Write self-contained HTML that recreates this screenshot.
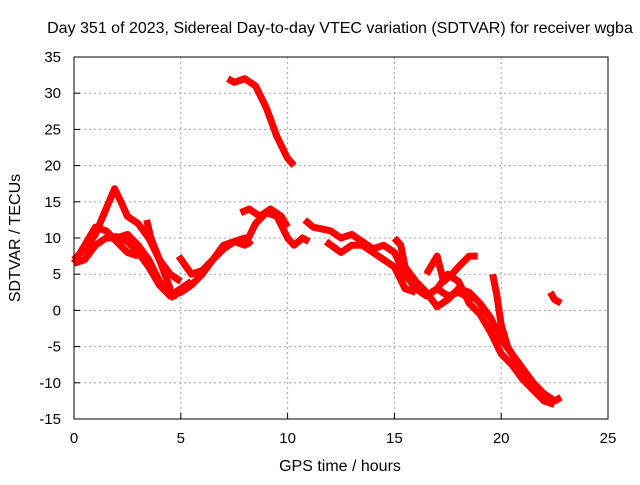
<!DOCTYPE html>
<html><head><meta charset="utf-8"><style>
body{margin:0;background:#fff}
svg text{font-family:"Liberation Sans",sans-serif;font-size:15px;fill:#000}
svg text.big{font-size:16px}
</style></head><body>
<svg id="chart" width="640" height="480" xmlns="http://www.w3.org/2000/svg">
<rect width="640" height="480" fill="#fff"/>
<text class="big" x="340" y="33" text-anchor="middle">Day 351 of 2023, Sidereal Day-to-day VTEC variation (SDTVAR) for receiver wgba</text>
<g id="grid"></g>
<g id="series"></g>
<rect x="74" y="57" width="534" height="362" fill="none" stroke="#000" stroke-width="1"/>
<g id="ticks"></g>
<text class="big" x="340" y="471" text-anchor="middle">GPS time / hours</text>
<text class="big" transform="translate(20,238) rotate(-90)" text-anchor="middle">SDTVAR / TECUs</text>
</svg>
<script>
const xTicks=[0,5,10,15,20,25];
const yTicks=[-15,-10,-5,0,5,10,15,20,25,30,35];
const s1=[[0,7],[0.5,8.5],[1,10.5],[1.5,14],[1.9,16.8],[2.2,15],[2.5,13],[3,12],[3.5,10],[4,7],[4.5,3],[4.7,1.5]];
const s2=[[0,6.5],[0.5,7],[1,9],[1.5,10],[2,10.2],[2.5,9.5],[3,8],[3.5,6],[4,3.5],[4.5,2],[5,3],[5.5,4]];
const s3=[[0,6.5],[0.5,9],[1,11.5],[1.5,11],[2,9.5],[2.5,8],[3,7.5]];
const s4=[[1.5,10],[2,10],[2.5,10.5],[3,9],[3.5,7],[4,4],[4.5,2],[5,2.5],[5.5,3.5],[6,5],[6.5,7],[7,8.5],[7.5,9.5],[8,9],[8.5,12],[9,13.5],[9.5,13],[10,10],[10.3,9],[10.7,10],[11,9.5]];
const s5=[[3.4,12.5],[3.6,10],[4,7],[4.5,5],[5,4]];
const s6=[[4.9,7.5],[5.5,5],[6,5.5],[6.5,7],[7,9],[7.5,9.5],[8,10],[8.3,9]];
const s7=[[7.8,13.5],[8.2,14],[8.7,13],[9.2,14],[9.7,13],[10,11.5]];
const s8=[[7.2,32],[7.5,31.5],[8,32],[8.5,31],[9,28],[9.5,24],[10,21],[10.3,20]];
const s9=[[10.8,12.5],[11.2,11.5],[12,11],[12.5,10],[13,10.5],[13.5,9.5],[14,8.5],[14.5,9],[15,8],[15.5,5],[16,3],[16.5,2],[17,3],[17.5,2],[18,2.5],[18.7,1.5]];
const s10=[[11.8,9.5],[12.5,8],[13,9],[13.5,9],[14,8],[14.5,7],[15,6],[15.5,3],[16,2.5]];
const s11=[[15,10],[15.3,9],[15.5,6],[16,4],[16.5,2.5],[17,0.5],[17.5,1.5],[18,3],[18.5,2.5],[19,1],[19.5,-1],[20,-4],[20.5,-6],[21,-8],[21.5,-10],[22,-11.5],[22.5,-12.5],[22.8,-12]];
const s12=[[16.5,5],[17,7.5],[17.3,4],[17.7,5],[18,6],[18.5,7.5],[18.9,7.5]];
const s13=[[17,3],[17.5,5],[18,4],[18.5,1],[19,-0.5],[19.5,-3],[20,-6],[20.5,-7.5],[21,-9.5],[21.5,-11],[22,-12.5],[22.5,-13]];
const s14=[[19.6,5],[19.8,2],[20,-2],[20.3,-5],[20.7,-7],[21.2,-9.5]];
const s15=[[22.3,2.5],[22.5,1.5],[22.8,1]];
const allSeries=[s1,s2,s3,s4,s5,s6,s7,s8,s9,s10,s11,s12,s13,s14,s15];
const X=v=>74+(v-0)*(534/25);
const Y=v=>419-(v+15)*(362/50);
const NS="http://www.w3.org/2000/svg";
const grid=document.getElementById('grid'),ticks=document.getElementById('ticks'),ser=document.getElementById('series');
function mk(t,a,p){const e=document.createElementNS(NS,t);for(const k in a)e.setAttribute(k,a[k]);p.appendChild(e);return e;}
xTicks.forEach(v=>{
 if(v>0&&v<25){const g=mk('line',{x1:X(v),x2:X(v),y1:57,y2:419,stroke:'#a0a0a0','stroke-dasharray':'2,3'},grid);
 
 }
 const t=mk('line',{x1:X(v),x2:X(v),y1:419,y2:413,stroke:'#000'},ticks);
 
 
 const l=mk('text',{x:X(v),y:443,'text-anchor':'middle'},ticks);l.textContent=v;
 
 
});
yTicks.forEach(v=>{
 if(v>-15&&v<35){const g=mk('line',{x1:74,x2:608,y1:Y(v),y2:Y(v),stroke:'#a0a0a0','stroke-dasharray':'2,3'},grid);
 
 }
 const t=mk('line',{x1:74,x2:80,y1:Y(v),y2:Y(v),stroke:'#000'},ticks);
 
 
 const l=mk('text',{x:61,y:Y(v)+5,'text-anchor':'end'},ticks);l.textContent=v;
 
 
});
allSeries.forEach((s,i)=>{
 const p=mk('polyline',{points:s.map(d=>X(d[0])+','+Y(d[1])).join(' '),fill:'none',stroke:'#ff0000','stroke-width':7,'stroke-linejoin':'round'},ser);
 
 
});
</script>
</body></html>
